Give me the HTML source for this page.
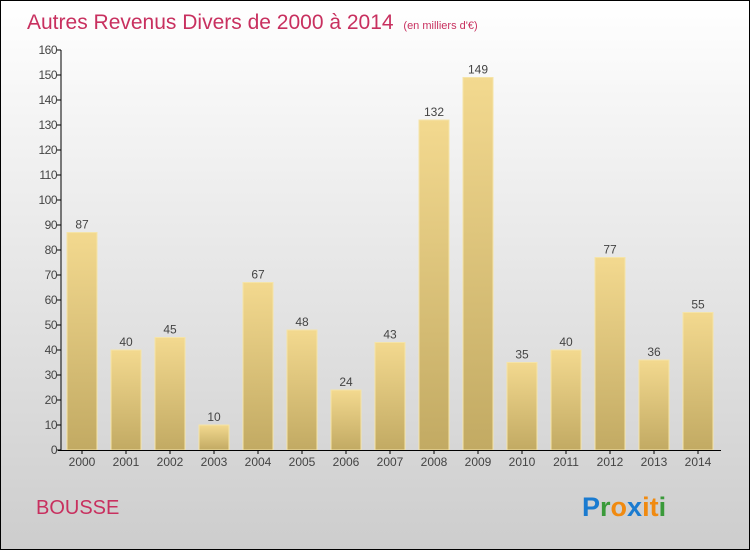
<!DOCTYPE html>
<html><head><meta charset="utf-8"><style>
html,body{margin:0;padding:0;width:750px;height:550px;overflow:hidden}
svg{display:block;font-family:"Liberation Sans",sans-serif}
</style></head><body>
<svg id="chart" width="750" height="550" xmlns="http://www.w3.org/2000/svg">
<defs>
<linearGradient id="bg" x1="0" y1="0" x2="0" y2="1"><stop offset="0" stop-color="#ffffff"/><stop offset="1" stop-color="#cdcdcd"/></linearGradient>
<linearGradient id="bar" x1="0" y1="0" x2="0" y2="1"><stop offset="0" stop-color="#f3d98f"/><stop offset="1" stop-color="#c2aa63"/></linearGradient>
</defs>
<rect x="0.5" y="0.5" width="749" height="549" fill="url(#bg)" stroke="#000" stroke-width="1"/>
<text x="27" y="29" font-size="21" fill="#c8305f">Autres Revenus Divers de 2000 à 2014 <tspan font-size="11" dx="4">(en milliers d'€)</tspan></text>
<g id="bars"></g>
<g id="axes"></g>
<text x="36" y="514" font-size="20" fill="#c8305f">BOUSSE</text>
<g font-size="27" font-weight="bold" font-family="'Liberation Sans',sans-serif">
<text x="582" y="516"><tspan fill="#1a7bd0">P</tspan><tspan fill="#3a9a3a">r</tspan><tspan fill="#f08a10">o</tspan><tspan fill="#1a7bd0">x</tspan><tspan fill="#f08a10">i</tspan><tspan fill="#f08a10">t</tspan><tspan fill="#3a9a3a">i</tspan></text>
</g>
</svg>
<script>
const categories=["2000","2001","2002","2003","2004","2005","2006","2007","2008","2009","2010","2011","2012","2013","2014"];
const values=[87,40,45,10,67,48,24,43,132,149,35,40,77,36,55];
const yTicks=[0,10,20,30,40,50,60,70,80,90,100,110,120,130,140,150,160];
const NS="http://www.w3.org/2000/svg";
const y0=450, pxPer=2.5, x0=82, step=44, bw=30;
const yScale=v=>y0-v*pxPer;
const xScale=i=>x0+i*step;
function mk(t,a){const e=document.createElementNS(NS,t);for(const k in a)e.setAttribute(k,a[k]);return e;}
const bars=document.getElementById('bars'), axes=document.getElementById('axes');
values.forEach((v,i)=>{
  const r=mk('rect',{x:xScale(i)-bw/2,y:yScale(v),width:bw,height:v*pxPer,fill:'url(#bar)',stroke:'#f5e4a8','stroke-width':1});
  
  
  bars.appendChild(r);
  const t=mk('text',{x:xScale(i),y:yScale(v)-4,'text-anchor':'middle','font-size':12,fill:'#444'});
  t.textContent=v;
  
  
  bars.appendChild(t);
  const c=mk('text',{x:xScale(i),y:466,'text-anchor':'middle','font-size':12,fill:'#444'});
  c.textContent=categories[i];
  
  
  axes.appendChild(c);
  const tk=mk('line',{x1:xScale(i),x2:xScale(i),y1:y0,y2:y0+4,stroke:'#000'});
  
  
  axes.appendChild(tk);
});
yTicks.forEach(v=>{
  const l=mk('line',{x1:57,x2:61,y1:yScale(v),y2:yScale(v),stroke:'#000'});
  
  
  axes.appendChild(l);
  const t=mk('text',{x:57,y:yScale(v)+4,'text-anchor':'end','font-size':12,fill:'#444','letter-spacing':'-0.5'});
  t.textContent=v;
  
  
  axes.appendChild(t);
});
const ya=mk('line',{x1:61,x2:61,y1:yScale(160),y2:y0,stroke:'#000'});


axes.appendChild(ya);
const xa=mk('line',{x1:58,x2:721,y1:y0+0.5,y2:y0+0.5,stroke:'#000'});


axes.appendChild(xa);
</script>
</body></html>
